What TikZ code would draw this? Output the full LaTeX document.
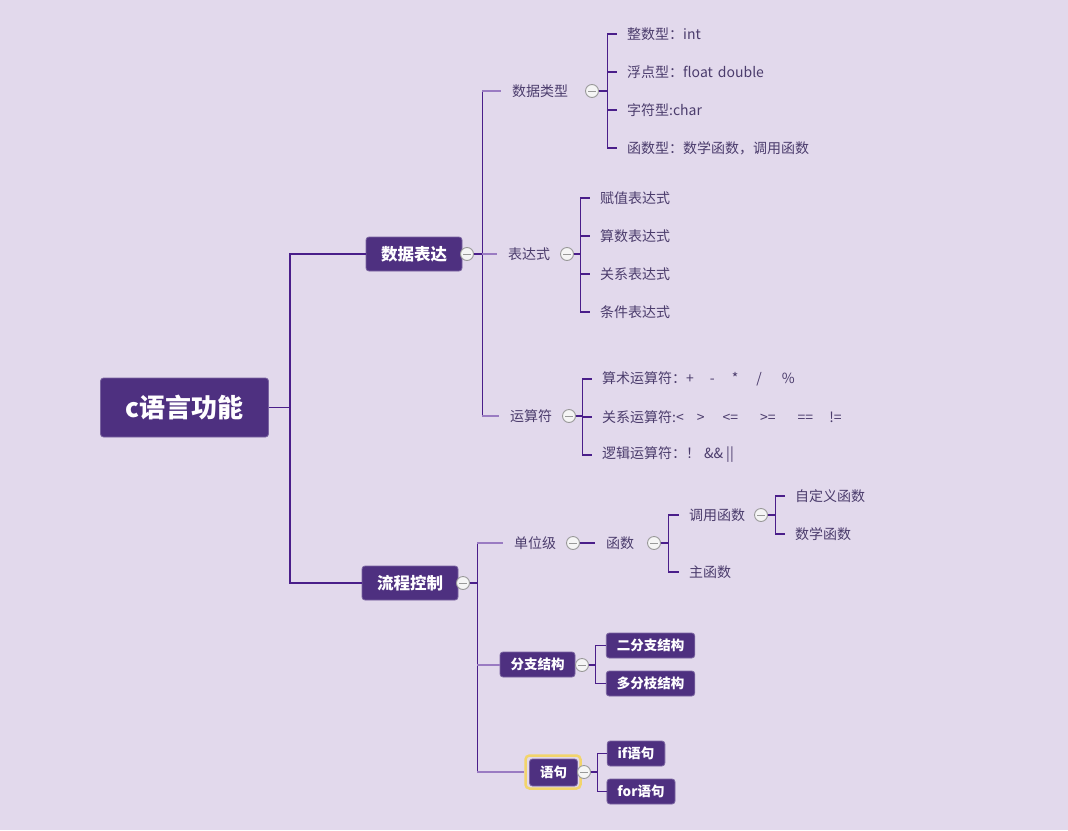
\documentclass[tikz,border=0pt]{standalone}
\usepackage{fontspec}
\setmainfont{Noto Sans CJK SC}
\usetikzlibrary{calc,positioning}
\definecolor{bgc}{HTML}{E2D9EC}
\definecolor{boxc}{HTML}{4E3080}
\definecolor{linec}{HTML}{4A1E8A}
\definecolor{stubc}{HTML}{9A7BC2}
\definecolor{txtc}{HTML}{4B3C6C}
\definecolor{foldc}{HTML}{999999}
\definecolor{markc}{HTML}{F2D46B}

\begin{document}
\begin{tikzpicture}[x=1pt, y=-1pt,
  box/.style={fill=boxc, draw=boxc!75!white, line width=0.8pt, rounded corners=3pt,
    text=white, font=\bfseries\fontsize{13.5}{15}\selectfont, minimum height=25pt, inner xsep=10.5pt},
  bigbox/.style={box, font=\bfseries\fontsize{16.5}{20}\selectfont, minimum height=34pt, inner xsep=15pt},
  topic/.style={text=txtc, font=\fontsize{14}{16}\selectfont, inner xsep=11pt, anchor=west},
  leaf/.style={text=txtc, font=\fontsize{14}{16}\selectfont, inner xsep=10pt, anchor=west},
  fold/.style={circle, draw=foldc, fill=white!92!gray, line width=0.9pt, minimum size=13pt, inner sep=0pt,
    path picture={\draw[foldc, line width=1pt] ($(path picture bounding box.center)+(-4,0)$) -- ++(8,0);}},
  trunk/.style={linec, line width=1.8pt},
  branch/.style={linec, line width=1.3pt},
  stub/.style={stubc, line width=2pt}]
  \fill[bgc] (0,0) rectangle (1068,830);

  \node[box, font=\bfseries\fontsize{26}{30}\selectfont, minimum height=59pt, inner xsep=25pt] (root) at (184.5,407.5) {c语言功能};
  \node[bigbox] (sjbd) at (414,254) {数据表达};
  \node[fold] (csjbd) at (467,254) {};
  \node[bigbox] (lckz) at (410,583) {流程控制};
  \node[fold] (clckz) at (463,583) {};

  \node[topic] (sjlx) at (501,91) {数据类型};
  \node[fold] (csjlx) at (592,91) {};
  \node[topic] (bds) at (497,254) {表达式};
  \node[fold] (cbds) at (567,254) {};
  \node[topic] (ysf) at (499,416) {运算符};
  \node[fold] (cysf) at (569,416) {};

  \node[leaf] (zsx) at (617,34) {整数型：int};
  \node[leaf] (fdx) at (617,72) {浮点型：float\hspace{5pt}double};
  \node[leaf] (zfx) at (617,110) {字符型:char};
  \node[leaf] (hsx) at (617,148) {函数型：数学函数，调用函数};
  \node[leaf] (fzbds) at (590,198) {赋值表达式};
  \node[leaf] (ssbds) at (590,236) {算数表达式};
  \node[leaf] (gxbds) at (590,274) {关系表达式};
  \node[leaf] (tjbds) at (590,312) {条件表达式};
  \node[leaf] (ssysf) at (592,379) {算术运算符：+\hspace{16pt}-\hspace{17pt}*\hspace{18pt}/\hspace{20pt}\%};
  \node[leaf] (gxysf) at (592,417) {关系运算符:<\hspace{13pt}>\hspace{18pt}<=\hspace{22pt}>=\hspace{22pt}==\hspace{16pt}!=};
  \node[leaf] (ljysf) at (592,455) {逻辑运算符：！\hspace{4pt}\&\&\hspace{3pt}||};

  \node[topic] (dwj) at (503,543) {单位级};
  \node[fold] (cdwj) at (573,543) {};
  \node[topic] (hs) at (595,543) {函数};
  \node[fold] (chs) at (654,543) {};
  \node[leaf] (dyhs) at (679,515) {调用函数};
  \node[fold] (cdyhs) at (761,515) {};
  \node[leaf] (zdyhs) at (785,496) {自定义函数};
  \node[leaf] (sxhs) at (785,534) {数学函数};
  \node[leaf] (zhs) at (679,572) {主函数};

  \node[box] (fzjg) at (537.5,664.5) {分支结构};
  \node[fold] (cfzjg) at (582,665) {};
  \node[box] (efzjg) at (650.5,645.5) {二分支结构};
  \node[box] (dfzjg) at (650.5,683.5) {多分枝结构};

  \node[draw=markc, line width=2.5pt, rounded corners=4pt, minimum width=55pt, minimum height=33pt] (mark) at (553,772) {};
  \node[box, minimum height=27pt] (yj) at (553.5,772.5) {语句};
  \node[fold] (cyj) at (584,772) {};
  \node[box] (ifyj) at (636,753.5) {if语句};
  \node[box] (foryj) at (641,791.5) {for语句};

  \draw[trunk] (root.east) -- ++(21,0) |- (sjbd.west);
  \draw[trunk] (root.east) -- ++(21,0) |- (lckz.west);

  \draw[branch] (csjbd.east) -- ++(8.5,0) coordinate (sjbdbar);
  \draw[branch] (sjbdbar |- sjlx.west) -- (sjbdbar |- ysf.west);
  \foreach \n in {sjlx,bds,ysf}
    \draw[stub] (sjbdbar |- \n.west) -- (\n.west);
  \foreach \n in {zsx,fdx,zfx,hsx}
    \draw[branch] (csjlx.east) -- ++(8.5,0) |- (\n.west);
  \foreach \n in {fzbds,ssbds,gxbds,tjbds}
    \draw[branch] (cbds.east) -- ++(6.5,0) |- (\n.west);
  \foreach \n in {ssysf,gxysf,ljysf}
    \draw[branch] (cysf.east) -- ++(6.5,0) |- (\n.west);

  \draw[branch] (clckz.east) -- ++(7.5,0) coordinate (lckzbar);
  \draw[branch] (lckzbar |- dwj.west) -- (lckzbar |- mark.west);
  \foreach \n in {dwj,fzjg,mark}
    \draw[stub] (lckzbar |- \n.west) -- (\n.west);
  \draw[branch] (cdwj.east) -- (hs.west);
  \foreach \n in {dyhs,zhs}
    \draw[branch] (chs.east) -- ++(7.5,0) |- (\n.west);
  \foreach \n in {zdyhs,sxhs}
    \draw[branch] (cdyhs.east) -- ++(7.5,0) |- (\n.west);
  \foreach \n in {efzjg,dfzjg}
    \draw[branch] (cfzjg.east) -- ++(6.5,0) |- (\n.west);
  \foreach \n in {ifyj,foryj}
    \draw[branch] (cyj.east) -- ++(6.5,0) |- (\n.west);
\end{tikzpicture}
\end{document}
